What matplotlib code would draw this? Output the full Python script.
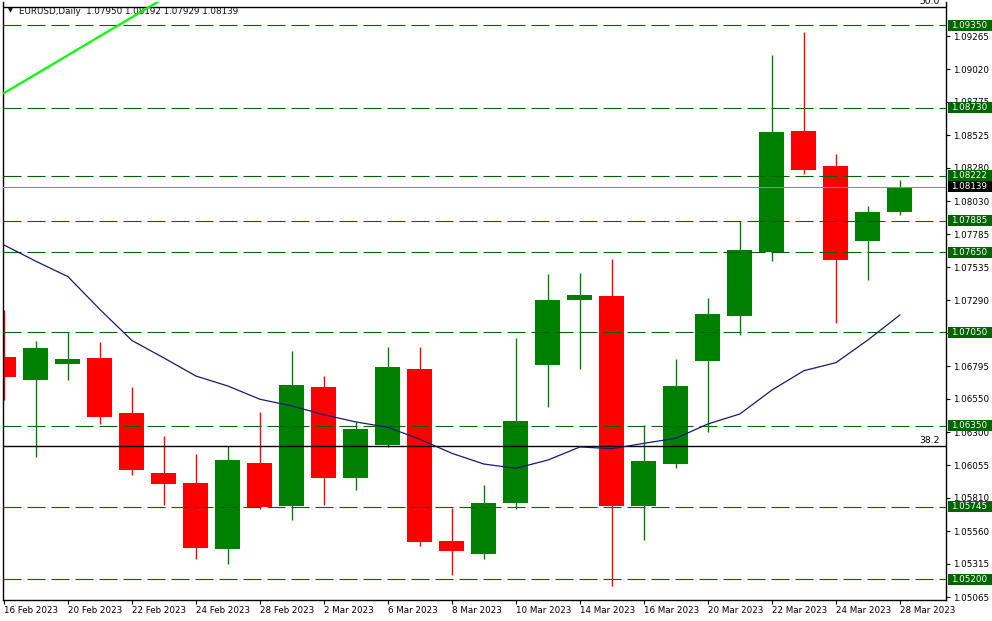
import matplotlib.pyplot as plt
import matplotlib.transforms as mtransforms
from matplotlib.patches import Rectangle
import numpy as np

plt.switch_backend('Agg')
plt.rcParams['font.family'] = ['DejaVu Sans']

# ==========================================
# data
# ==========================================
dates = ['16 Feb 2023', '17 Feb 2023', '20 Feb 2023', '21 Feb 2023', '22 Feb 2023',
         '23 Feb 2023', '24 Feb 2023', '27 Feb 2023', '28 Feb 2023', '1 Mar 2023',
         '2 Mar 2023', '3 Mar 2023', '6 Mar 2023', '7 Mar 2023', '8 Mar 2023',
         '9 Mar 2023', '10 Mar 2023', '13 Mar 2023', '14 Mar 2023', '15 Mar 2023',
         '16 Mar 2023', '17 Mar 2023', '20 Mar 2023', '21 Mar 2023', '22 Mar 2023',
         '23 Mar 2023', '24 Mar 2023', '27 Mar 2023', '28 Mar 2023']

opens = [1.06864, 1.06692, 1.06812, 1.06857, 1.06445, 1.05996, 1.05921, 1.05427, 1.06071, 1.05749,
         1.06640, 1.05959, 1.06208, 1.06775, 1.05487, 1.05390, 1.05771, 1.06805, 1.07291, 1.07321,
         1.05749, 1.06063, 1.06834, 1.07171, 1.07651, 1.08556, 1.08294, 1.07733, 1.07950]
highs = [1.07216, 1.06984, 1.07049, 1.06977, 1.06640, 1.06273, 1.06138, 1.06198, 1.06453, 1.06909,
         1.06722, 1.06378, 1.06939, 1.06939, 1.05736, 1.05906, 1.07007, 1.07486, 1.07493, 1.07598,
         1.06355, 1.06849, 1.07306, 1.07883, 1.09125, 1.09298, 1.08384, 1.07995, 1.08192]
lows = [1.06543, 1.06118, 1.06692, 1.06363, 1.05981, 1.05756, 1.05352, 1.05315, 1.05726, 1.05644,
        1.05756, 1.05869, 1.06193, 1.05449, 1.05232, 1.05352, 1.05726, 1.06490, 1.06775, 1.05150,
        1.05494, 1.06033, 1.06303, 1.07031, 1.07583, 1.08234, 1.07121, 1.07441, 1.07929]
closes = [1.06715, 1.06932, 1.06849, 1.06415, 1.06018, 1.05914, 1.05434, 1.06093, 1.05741, 1.06655,
          1.05959, 1.06325, 1.06790, 1.05479, 1.05412, 1.05771, 1.06385, 1.07291, 1.07329, 1.05749,
          1.06086, 1.06647, 1.07186, 1.07665, 1.08549, 1.08264, 1.07591, 1.07950, 1.08139]

ma = [1.07703, 1.07581, 1.07466, 1.07220, 1.06988, 1.06857, 1.06722, 1.06647, 1.06548, 1.06498,
      1.06432, 1.06378, 1.06338, 1.06248, 1.06143, 1.06063, 1.06031, 1.06093, 1.06191, 1.06178,
      1.06218, 1.06256, 1.06363, 1.06438, 1.06617, 1.06762, 1.06822, 1.06992, 1.07179]

levels = [1.09350, 1.08730, 1.08222, 1.07885, 1.07650, 1.07050, 1.06350, 1.05745, 1.05200]
last_price = 1.08139
fib_levels = [1.09483, 1.06198]
fib_names = ['50.0', '38.2']
trend_x = [0, 5]
trend_y = [1.0884, 1.0955]

price_ticks = [1.09265, 1.09020, 1.08775, 1.08525, 1.08280, 1.08030, 1.07785, 1.07535, 1.07290,
               1.07045, 1.06795, 1.06550, 1.06300, 1.06055, 1.05810, 1.05560, 1.05315, 1.05065]

BULL = '#008000'
BEAR = '#ff0000'
LEVEL = '#006400'
FS = 6.3
YMIN, YMAX = 1.050451, 1.095222
PX = (YMAX - YMIN) / 598  # price per pixel

# ==========================================
# chart
# ==========================================
fig = plt.figure(figsize=(9.92, 6.21), dpi=100)
ax = fig.add_axes([3 / 992, 21 / 621, 943 / 992, 598 / 621])

x = np.arange(len(dates))
o = np.array(opens)
c = np.array(closes)
cols = [BULL if cc >= oo else BEAR for oo, cc in zip(o, c)]

ax.vlines(x, lows, highs, colors=cols, linewidth=1.0, zorder=1)
ax.bar(x, np.abs(c - o), bottom=np.minimum(o, c), width=0.78, color=cols,
       linewidth=0, zorder=2)

for lv in levels:
    ax.axhline(lv, color=LEVEL, linewidth=0.8, linestyle=(0, (16.2, 5.4)), zorder=4)

ax.axhline(last_price, color='#8c8c8c', linewidth=0.8, zorder=3)

for lv in fib_levels:
    ax.axhline(lv, color='black', linewidth=1.0, zorder=4)

ax.plot(x, ma, color='#191970', linewidth=0.9, zorder=5)
ax.plot(trend_x, trend_y, color='#00ff00', linewidth=1.6, zorder=6)

ax.set_xlim(-0.03, 29.44)
ax.set_ylim(YMIN, YMAX)

ax.set_xticks(x[::2])
ax.set_xticklabels(dates[::2], fontsize=FS, ha='left')
ax.set_yticks(price_ticks)
ax.set_yticklabels([f'{t:.5f}' for t in price_ticks], fontsize=FS)
ax.yaxis.tick_right()
ax.tick_params(axis='both', direction='out', length=3, width=0.8, pad=2)
ax.tick_params(axis='x', pad=1)
ax.spines['top'].set_visible(False)
for s in ['left', 'right', 'bottom']:
    ax.spines[s].set_linewidth(1.0)

# price labels on the right scale
trans = mtransforms.blended_transform_factory(ax.transAxes, ax.transData)
tags = [(lv, LEVEL) for lv in levels] + [(last_price, 'black')]
for lv, fc in tags:
    ax.add_patch(Rectangle((1.0 + 2 / 943, lv - 5.5 * PX), 46 / 943, 11 * PX,
                           transform=trans, facecolor=fc, edgecolor='none',
                           clip_on=False, zorder=9))
    ax.text(1.0 + 5 / 943, lv, f'{lv:.5f}', transform=trans, ha='left', va='center',
            fontsize=FS, color='white', clip_on=False, zorder=10)

for lv, name in zip(fib_levels, fib_names):
    ax.text(1.0 - 6 / 943, lv + 1 * PX, name, transform=trans, ha='right', va='bottom',
            fontsize=FS + 0.4, color='black', clip_on=False, zorder=10)

ax.text(5 / 943, 1 - 9 / 598, '\u25bc', transform=ax.transAxes, fontsize=4.5,
        va='center', ha='left', zorder=1)
ax.text(16 / 943, 1 - 9 / 598, 'EURUSD,Daily  1.07950 1.08192 1.07929 1.08139',
        transform=ax.transAxes, fontsize=FS, va='center', ha='left', color='#101010', zorder=1)

fig.savefig('out.png', dpi=100)
